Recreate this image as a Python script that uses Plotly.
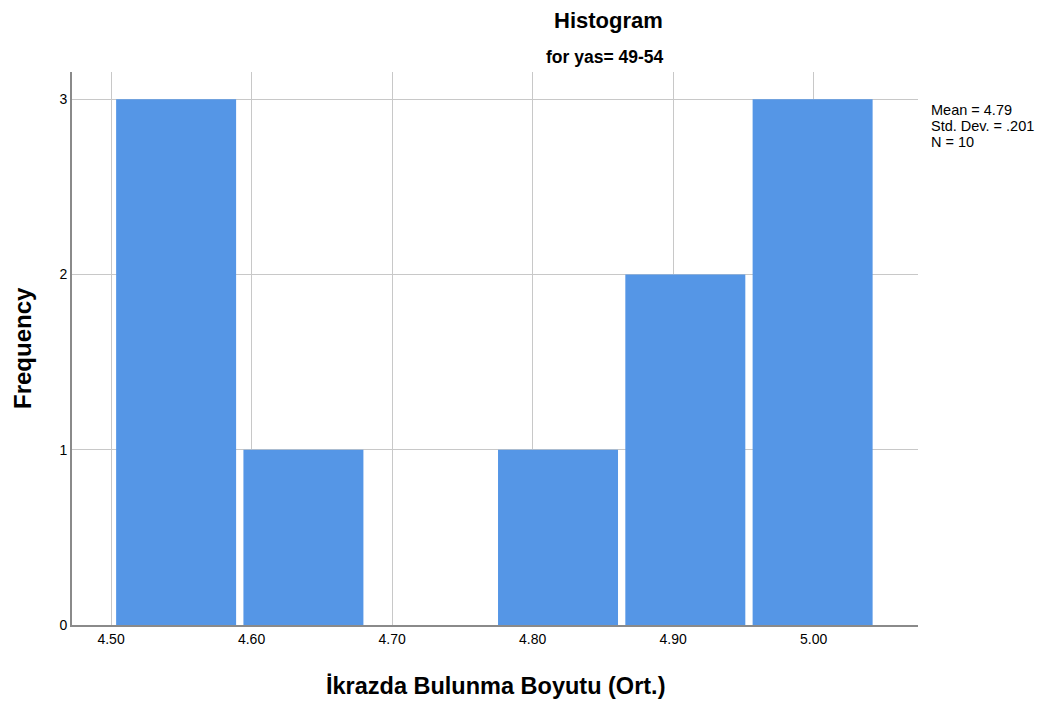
import plotly.graph_objects as go

bin_centers = [4.5463, 4.6369, 4.7275, 4.8181, 4.9087, 4.9993]
frequencies = [3, 1, 0, 1, 2, 3]
bar_width = 0.0854
x_ticks = [4.50, 4.60, 4.70, 4.80, 4.90, 5.00]
x_tick_labels = ["4.50", "4.60", "4.70", "4.80", "4.90", "5.00"]
y_ticks = [0, 1, 2, 3]
stats_lines = ["Mean = 4.79", "Std. Dev. = .201", "N = 10"]

font = "Liberation Sans, Arial, sans-serif"

# page pixel geometry of plot area (page = figure + 8px body margin)
PL, PR, PT, PB = 72, 918, 72, 625


def px(x):
    return (x - PL) / (PR - PL)


def py(y):
    return (PB - y) / (PB - PT)


fig = go.Figure()
fig.add_trace(go.Bar(
    x=bin_centers, y=frequencies, width=bar_width,
    marker=dict(color="#5596e6", line=dict(width=0)),
    hoverinfo="x+y",
))

annotations = [
    dict(text="<b>Histogram</b>", x=px(608), y=py(21), xanchor="center", yanchor="middle",
         font=dict(size=22, family=font)),
    dict(text="<b>for yas= 49-54</b>", x=px(604), y=py(57), xanchor="center", yanchor="middle",
         font=dict(size=17.5, family=font)),
    dict(text="<b>İkrazda Bulunma Boyutu (Ort.)</b>", x=px(495), y=py(686),
         xanchor="center", yanchor="middle", font=dict(size=23.5, family=font)),
    dict(text="<b>Frequency</b>", x=px(22), y=py(348), textangle=-90,
         xanchor="center", yanchor="middle", font=dict(size=24, family=font)),
]
for i, line in enumerate(stats_lines):
    annotations.append(dict(text=line, x=px(929), y=py(110 + i * 16), xanchor="left",
                            yanchor="middle", align="left", font=dict(size=14.5, family=font)))
for a in annotations:
    a.update(xref="paper", yref="paper", showarrow=False)

fig.update_layout(
    width=1046, height=695,
    margin=dict(l=64, r=136, t=64, b=78),
    paper_bgcolor="white", plot_bgcolor="white",
    showlegend=False,
    font=dict(family=font, color="#000000", size=14),
    xaxis=dict(
        range=[4.4722, 5.0743], tickvals=x_ticks, ticktext=x_tick_labels,
        showgrid=True, gridcolor="#c8c8c8", gridwidth=1.3,
        showline=True, linecolor="#8a8a8a", linewidth=2,
        ticks="", zeroline=False, tickfont=dict(size=14, family=font),
    ),
    yaxis=dict(
        range=[0, 3.155], tickvals=y_ticks,
        showgrid=True, gridcolor="#c8c8c8", gridwidth=1.3,
        showline=True, linecolor="#8a8a8a", linewidth=2,
        ticks="", zeroline=False, tickfont=dict(size=14, family=font),
    ),
    annotations=annotations,
)

fig.write_html("out.html")
